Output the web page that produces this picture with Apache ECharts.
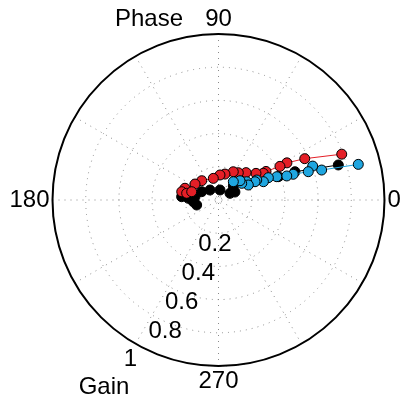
<!DOCTYPE html>
<html><head><meta charset="utf-8">
<script src="https://cdn.jsdelivr.net/npm/echarts@6/dist/echarts.min.js"></script>
<style>html,body{margin:0;padding:0;background:#fff}#c{width:403px;height:405px}</style>
</head><body><div id="c"></div>
<script>
// [gain, phase(deg)]
var redData = [[0.792,20.4],[0.576,25.6],[0.469,28.5],[0.422,28.7],[0.334,31.0],[0.314,30.8],[0.277,35.4],[0.234,44.8],[0.203,54.0],[0.192,62.4],[0.161,76],[0.151,86.6],[0.134,103.5],[0.154,131],[0.171,145.8],[0.214,160.7],[0.227,167.3],[0.196,168.1],[0.169,162.8]];
var blackData = [[0.752,16.3],[0.491,20.3],[0.387,21.3],[0.320,25.0],[0.304,27.5],[0.123,43.4],[0.110,25.9],[0.080,30.2],[0.061,81.5],[0.079,130.4],[0.113,153.7],[0.143,172.0],[0.184,170.6],[0.223,174.9],[0.182,176.8],[0.152,183.9],[0.135,192.9]];
var blueData = [[0.869,14.3],[0.647,16.2],[0.603,19.8],[0.567,17.5],[0.476,19.0],[0.436,19.4],[0.378,21.8],[0.329,24.1],[0.292,22.2],[0.260,27.6],[0.246,26.6],[0.202,33.0],[0.201,26.7],[0.172,35.7],[0.174,41.9],[0.142,51.0]];
var angleLabels = [0, 90, 180, 270];
var radiusLabels = [0.2, 0.4, 0.6, 0.8, 1];

var FONT = "'Liberation Sans', Arial, sans-serif";
var FS = 24;
var chart = echarts.init(document.getElementById('c'), null, {renderer:'canvas'});
function ser(name, data, fill, lineColor, z){
  return {type:'line', name:name, coordinateSystem:'polar', data:data, z:z,
    symbol:'circle', symbolSize:10, animation:false,
    lineStyle:{color:lineColor, width:1},
    itemStyle:{color:fill, borderColor:'#000', borderWidth:1}};
}
var dotted = {color:'#8a8a8a', width:1, type:[1,5]};
var option = {
  animation:false,
  polar:{center:[218.5,200], radius:166},
  angleAxis:{type:'value', min:0, max:360, interval:30, startAngle:0, clockwise:false,
    axisLine:{show:true, lineStyle:{color:'#000', width:2}},
    axisTick:{show:false},
    axisLabel:{show:true, margin:3, color:'#000', fontSize:FS, fontFamily:FONT,
      formatter:function(v){ return (angleLabels.indexOf(v) >= 0) ? String(v) : ''; }},
    splitLine:{show:true, lineStyle:dotted}},
  radiusAxis:{type:'value', min:0, max:1, interval:0.2,
    axisLine:{show:false}, axisTick:{show:false}, axisLabel:{show:false},
    splitLine:{show:true, lineStyle:dotted}},
  series:[
    ser('black', blackData, '#000000', '#000000', 2),
    ser('red', redData, '#e41f27', '#e41f27', 3),
    ser('blue', blueData, '#1fa6e0', '#1fa6e0', 4)
  ]
};
chart.setOption(option);
var g = [];
radiusLabels.forEach(function(v){
  var p = chart.convertToPixel({seriesIndex:0}, [v, 240]);
  var dx = (v === 1) ? -5 : 13;
  g.push({type:'text', x:p[0]+dx, y:p[1]+16, z:10,
    style:{text:String(v), fill:'#000', font:FS+'px '+FONT, align:'center', verticalAlign:'middle'}});
});
g.push({type:'text', x:149, y:19, style:{text:'Phase', fill:'#000', font:FS+'px '+FONT, align:'center', verticalAlign:'middle'}});
g.push({type:'text', x:104, y:387, style:{text:'Gain', fill:'#000', font:FS+'px '+FONT, align:'center', verticalAlign:'middle'}});
chart.setOption({graphic:g});
</script></body></html>
